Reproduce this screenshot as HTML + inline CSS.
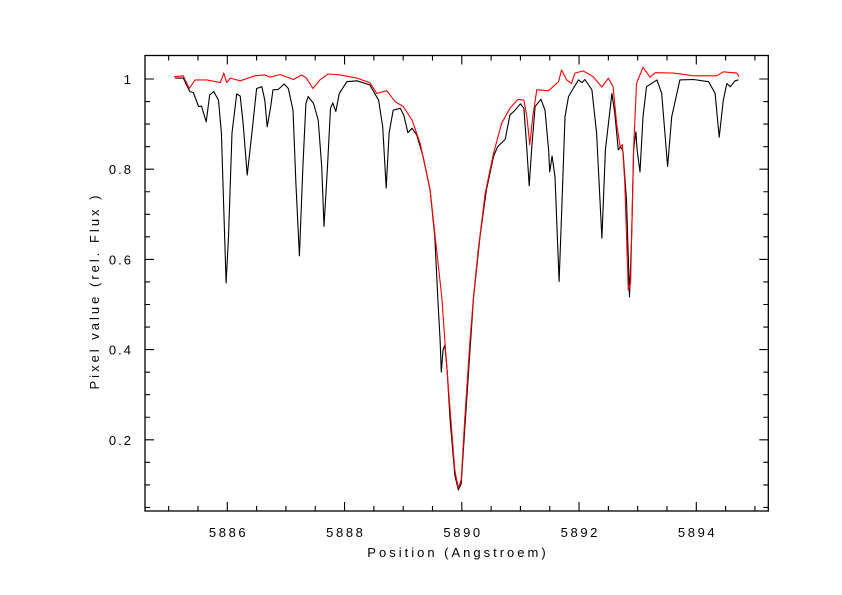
<!DOCTYPE html>
<html><head><meta charset="utf-8"><style>
html,body{margin:0;padding:0;background:#fff;}
svg{display:block;}
text{font-family:"Liberation Sans",sans-serif;font-size:13px;fill:#000;}
</style></head><body>
<svg id="chart" width="842" height="595" viewBox="0 0 842 595" xmlns="http://www.w3.org/2000/svg">
<rect x="145" y="55.5" width="623.3" height="455.5" fill="none" stroke="#000" stroke-width="1.3"/>
<g id="ticks"></g>
<g id="labels"></g>
<g id="series"></g>
<text x="458" y="557" text-anchor="middle" letter-spacing="3">Position (Angstroem)</text>
<text transform="translate(99,291) rotate(-90)" text-anchor="middle" letter-spacing="3">Pixel value (rel. Flux )</text>
</svg>
<script>
const xTicks=[5886,5888,5890,5892,5894];
const yTicks=[0.2,0.4,0.6,0.8,1];
const yTickLabels=["0.2","0.4","0.6","0.8","1"];
const blackWave=[5885.11,5885.25,5885.36,5885.42,5885.51,5885.56,5885.64,5885.70,5885.77,5885.85,5885.90,5885.98,5886.02,5886.08,5886.16,5886.22,5886.27,5886.34,5886.42,5886.50,5886.59,5886.64,5886.68,5886.74,5886.78,5886.87,5886.97,5887.04,5887.12,5887.17,5887.23,5887.29,5887.34,5887.38,5887.47,5887.55,5887.61,5887.65,5887.71,5887.76,5887.80,5887.85,5887.91,5888.04,5888.21,5888.43,5888.58,5888.65,5888.71,5888.76,5888.83,5888.95,5889.01,5889.08,5889.15,5889.23,5889.34,5889.46,5889.54,5889.59,5889.63,5889.65,5889.68,5889.71,5889.75,5889.80,5889.88,5889.94,5889.99,5890.05,5890.14,5890.20,5890.31,5890.42,5890.54,5890.61,5890.74,5890.82,5890.91,5891.00,5891.06,5891.11,5891.15,5891.19,5891.25,5891.35,5891.42,5891.48,5891.50,5891.54,5891.59,5891.66,5891.70,5891.76,5891.82,5891.90,5891.99,5892.05,5892.10,5892.22,5892.30,5892.39,5892.45,5892.56,5892.61,5892.67,5892.71,5892.75,5892.81,5892.86,5892.90,5892.93,5892.97,5892.99,5893.04,5893.09,5893.15,5893.33,5893.41,5893.51,5893.58,5893.72,5893.95,5894.21,5894.32,5894.39,5894.46,5894.52,5894.58,5894.66,5894.72];
const blackFlux=[1.002,1.002,0.972,0.970,0.939,0.940,0.905,0.965,0.972,0.953,0.880,0.548,0.650,0.880,0.967,0.962,0.902,0.787,0.880,0.979,0.983,0.953,0.894,0.939,0.976,0.977,0.989,0.979,0.931,0.769,0.608,0.806,0.946,0.961,0.946,0.909,0.806,0.673,0.806,0.935,0.947,0.928,0.968,0.994,0.996,0.987,0.953,0.894,0.758,0.880,0.931,0.935,0.920,0.881,0.891,0.876,0.828,0.754,0.650,0.514,0.421,0.350,0.399,0.410,0.355,0.244,0.122,0.089,0.102,0.222,0.399,0.514,0.650,0.754,0.828,0.850,0.866,0.920,0.931,0.945,0.935,0.843,0.763,0.843,0.939,0.955,0.931,0.843,0.794,0.829,0.783,0.551,0.695,0.916,0.961,0.979,0.998,0.992,0.999,0.976,0.880,0.647,0.843,0.968,0.924,0.843,0.850,0.839,0.732,0.517,0.665,0.843,0.883,0.843,0.794,0.916,0.983,0.998,0.968,0.806,0.916,0.998,0.999,0.994,0.968,0.871,0.953,0.990,0.983,0.996,0.998];
const redWave=[5885.09,5885.25,5885.35,5885.45,5885.65,5885.88,5885.94,5885.99,5886.05,5886.22,5886.47,5886.64,5886.73,5886.90,5887.13,5887.27,5887.35,5887.46,5887.58,5887.72,5887.92,5888.21,5888.43,5888.55,5888.72,5888.86,5889.00,5889.15,5889.29,5889.46,5889.66,5889.71,5889.80,5889.88,5889.94,5889.99,5890.05,5890.14,5890.20,5890.28,5890.40,5890.54,5890.68,5890.82,5890.96,5891.06,5891.11,5891.16,5891.21,5891.28,5891.48,5891.65,5891.70,5891.79,5891.87,5891.93,5892.07,5892.24,5892.39,5892.50,5892.58,5892.64,5892.70,5892.74,5892.78,5892.84,5892.88,5892.93,5892.98,5893.09,5893.21,5893.30,5893.61,5893.95,5894.35,5894.46,5894.69,5894.73];
const redFlux=[1.005,1.007,0.979,0.998,0.998,0.992,1.013,0.992,1.002,0.996,1.007,1.009,1.004,1.010,0.999,1.009,1.002,0.979,0.998,1.011,1.009,1.002,0.992,0.968,0.974,0.950,0.939,0.909,0.857,0.754,0.514,0.421,0.266,0.133,0.093,0.111,0.244,0.421,0.517,0.621,0.747,0.835,0.902,0.935,0.955,0.953,0.916,0.854,0.916,0.976,0.974,0.994,1.020,0.998,0.990,1.013,1.018,1.005,0.982,1.002,0.983,0.902,0.850,0.854,0.769,0.532,0.547,0.843,0.990,1.026,1.004,1.014,1.013,1.007,1.007,1.016,1.013,1.005];

const NS='http://www.w3.org/2000/svg';
const X0=145,X1=768.3,Y0=511,Y1=55.5;
function xs(v){return 227.3+(v-5886)*58.625;}
function ys(v){return 530-v*451;}
function mk(tag,parent){const e=document.createElementNS(NS,tag);parent.appendChild(e);return e;}
const tg=document.getElementById('ticks');
let d='';
for(let v=5884.5;v<=5895.3;v+=0.5){
  const x=xs(v); if(x<X0+1||x>X1-1) continue;
  const major=Math.abs(v/2-Math.round(v/2))<1e-6; const L=major?9:5;
  d+=`M${x},${Y0}v${-L}M${x},${Y1}v${L}`;
}
for(let v=0.05;v<=1.05;v+=0.05){
  const y=ys(v); if(y>Y0-1||y<Y1+1) continue;
  const major=Math.abs(v*5-Math.round(v*5))<1e-6; const L=major?9:5;
  d+=`M${X0},${y}h${L}M${X1},${y}h${-L}`;
}
const tp=mk('path',tg);


tp.setAttribute('d',d);tp.setAttribute('stroke','#000');tp.setAttribute('stroke-width','1.1');tp.setAttribute('fill','none');
const lg=document.getElementById('labels');
xTicks.forEach(v=>{const t=mk('text',lg);


t.setAttribute('x',xs(v)+1.3);t.setAttribute('y',537);t.setAttribute('text-anchor','middle');t.setAttribute('letter-spacing','2.6');t.textContent=String(v);});
yTicks.forEach((v,i)=>{const t=mk('text',lg);


t.setAttribute('x',133);t.setAttribute('y',ys(v)+5);t.setAttribute('text-anchor','end');t.setAttribute('letter-spacing','2');t.textContent=yTickLabels[i];});
const sg=document.getElementById('series');
function line(w,f,color,name){const p=mk('path',sg);


p.setAttribute('d',w.map((v,i)=>(i?'L':'M')+xs(v).toFixed(1)+','+ys(f[i]).toFixed(1)).join(''));
p.setAttribute('stroke',color);p.setAttribute('stroke-width','1.1');p.setAttribute('fill','none');p.setAttribute('stroke-linejoin','round');}
line(blackWave,blackFlux,'#000','observed-spectrum-line');
line(redWave,redFlux,'#f00','corrected-spectrum-line');
</script>
</body></html>
